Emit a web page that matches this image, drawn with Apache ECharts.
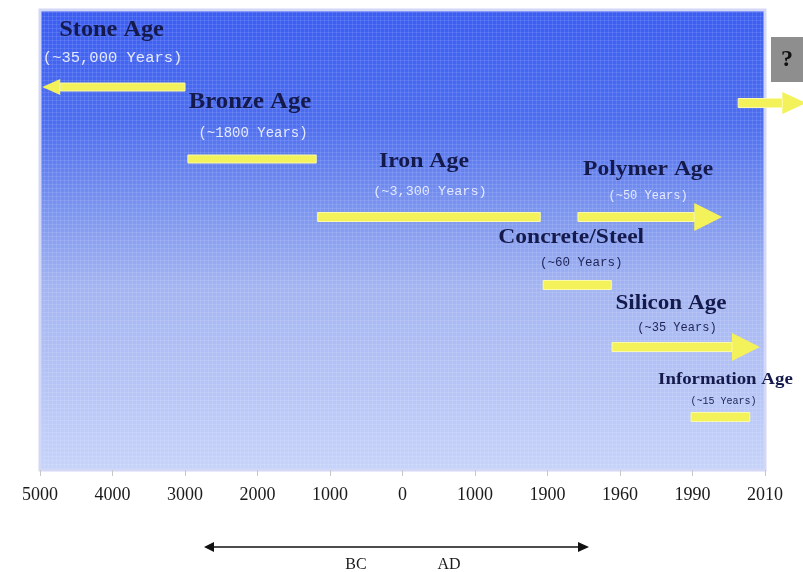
<!DOCTYPE html>
<html>
<head>
<meta charset="utf-8">
<title>Ages of Materials</title>
<script src="https://cdn.jsdelivr.net/npm/echarts@6/dist/echarts.min.js"></script>
<style>
  html, body { margin: 0; padding: 0; background: #ffffff; }
  #chart { width: 803px; height: 572px; }
</style>
</head>
<body>
<div id="chart"></div>
<script>
// Timeline tick labels (evenly spaced, non-linear time scale)
const tickLabels = ['5000', '4000', '3000', '2000', '1000', '0', '1000', '1900', '1960', '1990', '2010'];

// Ages: name, duration caption, span on the tick-index scale, row level
const ageNames = ['Stone Age', 'Bronze Age', 'Iron Age', 'Polymer Age', 'Concrete/Steel', 'Silicon Age', 'Information Age', ''];
const ageSpans = ['(~35,000 Years)', '(~1800 Years)', '(~3,300 Years)', '(~50 Years)', '(~60 Years)', '(~35 Years)', '(~15 Years)', ''];
const ageStart = [2.0, 2.04, 3.83, 7.42, 6.94, 7.89, 8.98, 9.63];
const ageEnd = [0.03, 3.81, 6.9, 9.41, 7.88, 9.93, 9.79, 10.57];
const ageRow = [383, 311, 253, 253, 185, 123, 53, 367];
const ageOpen = [true, false, false, true, false, true, false, true];

// Drawing styles per age (arrow sizes, caption fonts and offsets)
const headLen = [18, 0, 0, 28, 0, 28, 0, 24];
const headHalf = [8, 0, 0, 14, 0, 14, 0, 11];
const shaftW = [8, 8, 9, 9, 9, 9, 9, 9];
const titleSize = [22.5, 22.5, 22, 21, 21, 21, 16, 0];
const titleScale = [1.08, 1.1, 1.08, 1.12, 1.12, 1.1, 1.18, 1];
const titleLift = [57, 57, 56, 47, 47, 43, 37, 0];
const titleShift = [-2, -2, -5, -2, -6, -15, 5, 0];
const spanSize = [15.5, 14, 13.5, 12, 12.5, 12, 10, 0];
const spanLift = [29, 26, 26, 21, 22, 19, 16, 0];
const spanShift = [-1, 1, 1, -2, 4, -9, 3, 0];
const spanColor = ['#e4e9ff', '#e4e9ff', '#e4e9ff', '#e4e9ff', '#1c2356', '#1c2356', '#1c2356', '#000'];

const rows = ageNames.map((n, i) => [ageStart[i], ageEnd[i], ageRow[i], i]);

const chart = echarts.init(document.getElementById('chart'), null, { renderer: 'canvas' });

function renderAge(params, api) {
  const i = api.value(3);
  const p0 = api.coord([api.value(0), api.value(2)]);
  const p1 = api.coord([api.value(1), api.value(2)]);
  const dir = p1[0] >= p0[0] ? 1 : -1;
  const half = shaftW[i] / 2;
  const y = p0[1];
  const children = [];
  const yellow = '#f4f25a';
  let shaftEnd = p1[0];
  if (ageOpen[i]) {
    shaftEnd = p1[0] - dir * headLen[i];
    children.push({
      type: 'polygon',
      shape: { points: [[shaftEnd, y - headHalf[i]], [p1[0], y], [shaftEnd, y + headHalf[i]]] },
      style: { fill: yellow }
    });
  }
  const xa = Math.min(p0[0], shaftEnd), xb = Math.max(p0[0], shaftEnd);
  children.push({
    type: 'rect',
    shape: { x: xa, y: y - half, width: xb - xa, height: shaftW[i] },
    style: { fill: yellow, stroke: '#fbfaa8', lineWidth: 1 }
  });
  const cx = (p0[0] + p1[0]) / 2;
  if (ageNames[i]) {
    children.push({
      type: 'text',
      x: cx + titleShift[i],
      y: y - titleLift[i],
      scaleX: titleScale[i],
      style: {
        text: ageNames[i],
        fill: '#151a4c',
        font: 'bold ' + titleSize[i] + 'px "Liberation Serif", "Times New Roman", serif',
        align: 'center',
        verticalAlign: 'middle'
      }
    });
    children.push({
      type: 'text',
      x: cx + spanShift[i],
      y: y - spanLift[i],
      style: {
        text: ageSpans[i],
        fill: spanColor[i],
        font: spanSize[i] + 'px "Liberation Mono", "Courier New", monospace',
        align: 'center',
        verticalAlign: 'middle'
      }
    });
  }
  return { type: 'group', children: children };
}

const plotBg = new echarts.graphic.LinearGradient(0, 0, 0, 1, [
  { offset: 0, color: '#3a5cf2' },
  { offset: 0.25, color: '#4d6ef0' },
  { offset: 0.45, color: '#7f98f0' },
  { offset: 0.6, color: '#a3b4f2' },
  { offset: 1, color: '#c6d3fa' }
]);

// Fine screen texture laid over the plot background
const texture = document.createElement('canvas');
texture.width = 4; texture.height = 4;
(function () {
  const g = texture.getContext('2d');
  g.fillStyle = 'rgba(255,255,255,0.10)';
  g.fillRect(0, 0, 4, 1);
  g.fillRect(0, 0, 1, 4);
})();

chart.setOption({
  animation: false,
  backgroundColor: '#ffffff',
  grid: {
    left: 40, right: 38, top: 10, bottom: 102,
    show: true,
    backgroundColor: plotBg,
    borderColor: '#d3d8f7',
    borderWidth: 3
  },
  xAxis: {
    type: 'value',
    min: 0, max: 10, interval: 1,
    axisLine: { show: false },
    axisTick: { show: true, length: 6, lineStyle: { color: '#c8c8c8' } },
    splitLine: { show: false },
    axisLabel: {
      margin: 16,
      color: '#1a1a1a',
      fontFamily: '"Liberation Serif", "Times New Roman", serif',
      fontSize: 18,
      formatter: v => tickLabels[Math.round(v)] || ''
    }
  },
  yAxis: {
    type: 'value', min: 0, max: 460,
    show: false
  },
  series: [{
    type: 'custom',
    clip: false,
    renderItem: renderAge,
    data: rows,
    z: 5
  }],
  graphic: [
    { type: 'rect', shape: { x: 42, y: 12, width: 721, height: 456 }, style: { fill: { image: texture, repeat: 'repeat' } }, z: 1, silent: true },
    // "?" box for what comes next
    { type: 'rect', shape: { x: 771, y: 37, width: 34, height: 45 }, style: { fill: '#8e8e8e' }, z: 10 },
    { type: 'text', x: 787, y: 60, style: { text: '?', fill: '#111', font: 'bold 24px "Liberation Serif", serif', align: 'center', verticalAlign: 'middle' }, z: 11 },
    // BC / AD direction arrow
    { type: 'line', shape: { x1: 212, y1: 547, x2: 580, y2: 547 }, style: { stroke: '#111', lineWidth: 1.5 }, z: 10 },
    { type: 'polygon', shape: { points: [[204, 547], [214, 542], [214, 552]] }, style: { fill: '#111' }, z: 10 },
    { type: 'polygon', shape: { points: [[589, 547], [578, 542], [578, 552]] }, style: { fill: '#111' }, z: 10 },
    { type: 'text', x: 356, y: 565, style: { text: 'BC', fill: '#1a1a1a', font: '16px "Liberation Serif", serif', align: 'center', verticalAlign: 'middle' }, z: 10 },
    { type: 'text', x: 449, y: 565, style: { text: 'AD', fill: '#1a1a1a', font: '16px "Liberation Serif", serif', align: 'center', verticalAlign: 'middle' }, z: 10 }
  ]
});
</script>
</body>
</html>
